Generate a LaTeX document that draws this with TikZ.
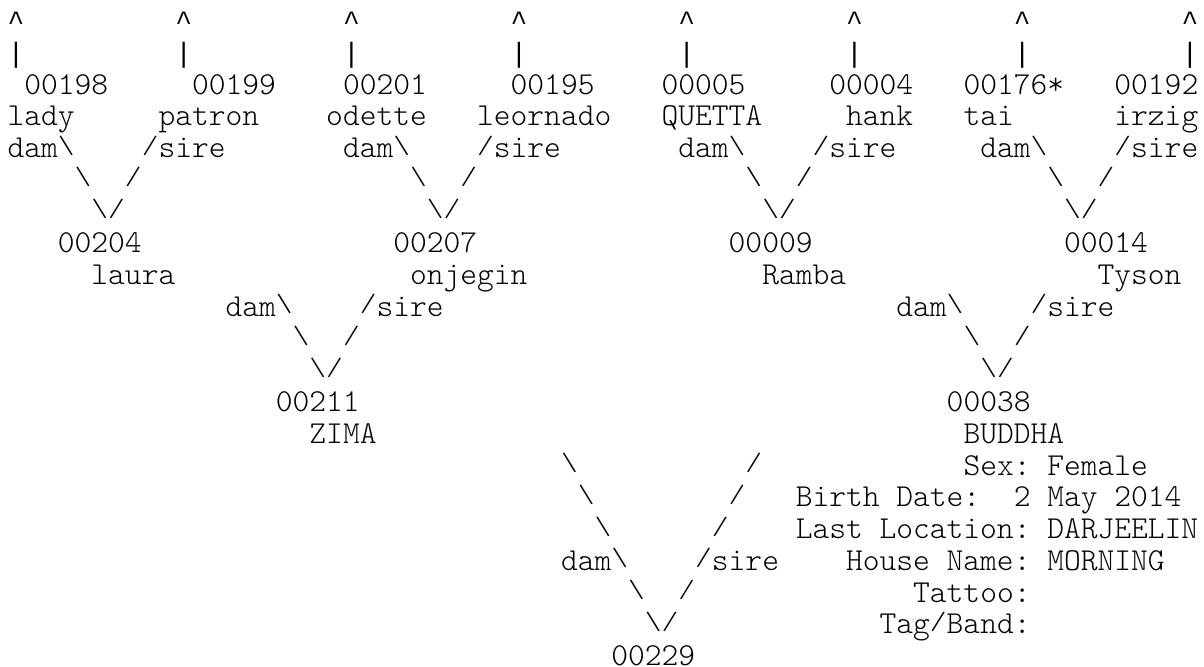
\documentclass[tikz,border=0pt]{standalone}
\usepackage{fontspec}
\usepackage{graphicx}
\setmonofont{lmmonolt10-regular.otf}
\newfontfamily\glyphfont{Liberation Mono}
\newcommand{\pedfont}{\ttfamily\fontsize{15.97pt}{15.88pt}\selectfont\frenchspacing}
\newcommand{\gl}[1]{{\glyphfont\fontsize{13.97pt}{15.88pt}\selectfont#1}}
\newcommand{\squash}[1]{\raisebox{0.14em}{\scalebox{1}[0.78]{#1}}}
\newcommand{\bs}{\squash{\textbackslash}}
\newcommand{\fs}{\squash{/}}
\tikzset{asc/.style={anchor=base west,inner sep=0pt,outer sep=0pt,font=\pedfont}}

\begin{document}
\begin{tikzpicture}[x=8.385pt,y=-15.88pt]
  \fill[white] (-0.4532,-0.9603) rectangle (71.342,20.041);
  \useasboundingbox (-0.4532,-0.9603) rectangle (71.342,20.041);
  % unknown ancestors
  \foreach \k in {0,...,7} {
    \node[asc] (up\k) at (10*\k,0) {\gl{\textasciicircum}};
    \node[asc] (bar\k) at (10*\k,1) {\gl{|}};
  }
  % generation 3
  \foreach \col/\lbl/\nm in {1/00198/a198,11/00199/a199,20/00201/a201,30/00195/a195,39/00005/a005,49/00004/a004,57/00176*/a176,66/00192/a192}
    \node[asc] (\nm) at (\col,2) {\lbl};
  \foreach \col/\lbl in {0/lady,9/patron,19/odette,28/leornado,39/QUETTA,50/hank,57/tai,66/irzig}
    \node[asc] (n-\lbl) at (\col,3) {\lbl};
  \foreach \d/\s/\k in {0/8/1,20/28/2,40/48/3,58/66/4} {
    \node[asc] (dam\k) at (\d,4) {dam\bs};
    \node[asc] (sire\k) at (\s,4) {\fs sire};
    \node[asc] (bl\k) at (\d+4,5) {\bs};
    \node[asc] (fl\k) at (\s-1,5) {\fs};
  }
  \foreach \col/\k in {5/1,25/2,45/3,63/4}
    \node[asc] (vee\k) at (\col,6) {\bs\fs};
  % generation 2
  \foreach \col/\lbl/\nm in {3/00204/a204,23/00207/a207,43/00009/a009,63/00014/a014}
    \node[asc] (\nm) at (\col,7) {\lbl};
  \foreach \col/\lbl in {5/laura,24/onjegin,45/Ramba,65/Tyson}
    \node[asc] (n-\lbl) at (\col,8) {\lbl};
  \foreach \d/\s/\k in {13/21/5,53/61/6} {
    \node[asc] (dam\k) at (\d,9) {dam\bs};
    \node[asc] (sire\k) at (\s,9) {\fs sire};
    \node[asc] (bl\k) at (\d+4,10) {\bs};
    \node[asc] (fl\k) at (\s-1,10) {\fs};
    \node[asc] (vee\k) at (\d+5,11) {\bs\fs};
  }
  % generation 1
  \node[asc] (a211) at (16,12) {00211};
  \node[asc] (a038) at (56,12) {00038};
  \node[asc] (n-ZIMA) at (18,13) {ZIMA};
  \node[asc] (n-BUDDHA) at (57,13) {BUDDHA};
  \foreach \r in {0,1,2} {
    \node[asc] (blx\r) at (33+\r,14+\r) {\bs};
    \node[asc] (flx\r) at (44-\r,14+\r) {\fs};
  }
  \node[asc] (dam7) at (33,17) {dam\bs};
  \node[asc] (sire7) at (41,17) {\fs sire};
  \node[asc] (bl7) at (37,18) {\bs};
  \node[asc] (fl7) at (40,18) {\fs};
  \node[asc] (vee7) at (38,19) {\bs\fs};
  \node[asc] (a229) at (36,20) {00229};
  % details
  \node[asc] (sex) at (57,14) {Sex: Female};
  \node[asc] (birth) at (47,15) {Birth Date:\ \ 2 May 2014};
  \node[asc] (loc) at (47,16) {Last Location: DARJEELIN};
  \node[asc] (house) at (50,17) {House Name: MORNING};
  \node[asc] (tattoo) at (54,18) {Tattoo:};
  \node[asc] (tag) at (52,19) {Tag\fs Band:};
\end{tikzpicture}
\end{document}
